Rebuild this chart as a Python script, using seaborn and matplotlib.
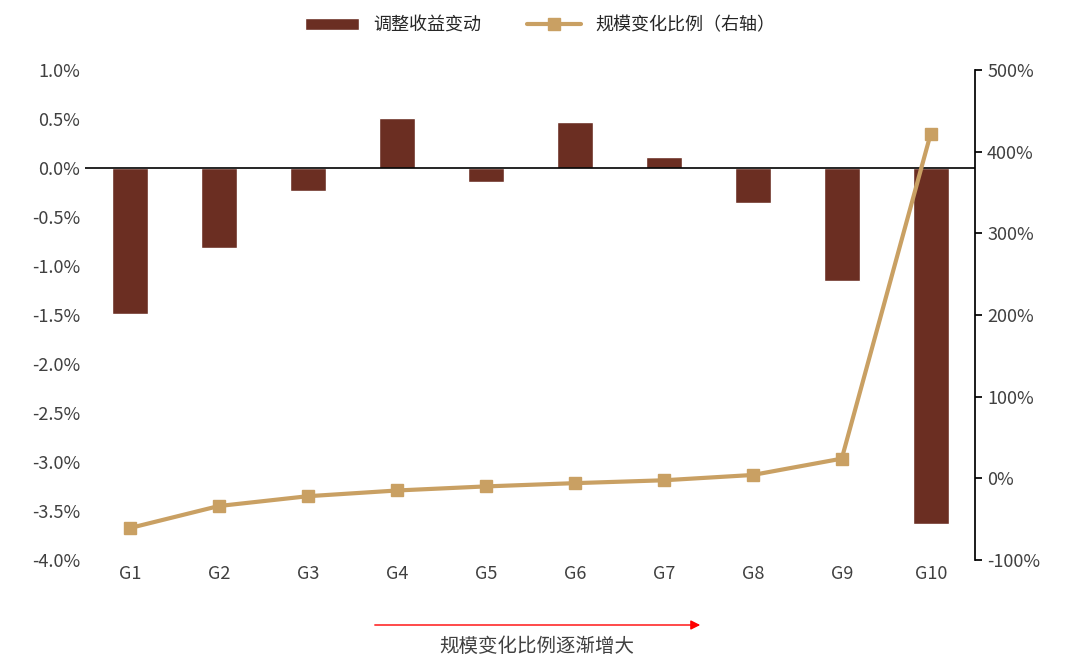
import matplotlib
matplotlib.use("Agg")
import matplotlib.pyplot as plt
import seaborn as sns
import pandas as pd
from matplotlib.ticker import FuncFormatter

sns.set_theme(style="white")
plt.rcParams['font.family'] = ['Noto Sans CJK SC', 'DejaVu Sans']
plt.rcParams['axes.unicode_minus'] = False

groups = ["G1","G2","G3","G4","G5","G6","G7","G8","G9","G10"]
ret_change = [-1.49, -0.82, -0.24, 0.51, -0.14, 0.47, 0.11, -0.36, -1.15, -3.63]
scale_change = [-61, -34, -22, -15, -10, -6, -2.5, 4, 24, 422]
df = pd.DataFrame({"g": groups, "r": ret_change, "s": scale_change})

fig = plt.figure(figsize=(10.8, 6.65), dpi=100)
ax = fig.add_axes([0.079, 0.158, 0.824, 0.737])
sns.barplot(data=df, x="g", y="r", color="#6B2E22", width=0.4, saturation=1, ax=ax, label="调整收益变动")
ax.set_ylim(-4.0, 1.0)
ax.set_yticks([1.0,0.5,0,-0.5,-1,-1.5,-2,-2.5,-3,-3.5,-4])
ax.yaxis.set_major_formatter(FuncFormatter(lambda v, p: f"{v:.1f}%"))
ax.axhline(0, color="black", lw=1.2)
ax.set_xlabel(""); ax.set_ylabel("")
for s in ["top","left","bottom","right"]:
    ax.spines[s].set_visible(False)
ax.tick_params(axis="both", labelsize=13, colors="#404040", length=0)

ax2 = ax.twinx()
ax2.plot(range(len(groups)), scale_change, color="#C9A063", lw=3, marker="s", markersize=8, label="规模变化比例（右轴）")
ax2.set_ylim(-100, 500)
ax2.set_yticks(range(-100, 501, 100))
ax2.yaxis.set_major_formatter(FuncFormatter(lambda v, p: f"{v:.0f}%"))
for s in ["top","left","bottom"]:
    ax2.spines[s].set_visible(False)
ax2.spines["right"].set_color("black")
ax2.tick_params(axis="y", labelsize=13, colors="#404040", direction="out", length=5, color="black")
ax2.grid(False); ax.grid(False)
ax.set_xlim(-0.5, 9.5)

h1, l1 = ax.get_legend_handles_labels()
h2, l2 = ax2.get_legend_handles_labels()
if ax.get_legend(): ax.get_legend().remove()
fig.legend(h1+h2, l1+l2, loc="upper center", bbox_to_anchor=(0.5, 1.0), ncol=2, frameon=False, fontsize=13, handlelength=3, columnspacing=2.5)

fig.patches.append(matplotlib.patches.FancyArrowPatch((372/1080, 1-625/665), (703/1080, 1-625/665), transform=fig.transFigure,
                   arrowstyle="-|>", mutation_scale=14, color="red", lw=1))
fig.text(537/1080, 1-646/665, "规模变化比例逐渐增大", ha="center", va="center", fontsize=14, color="#404040")
fig.savefig("out.png", dpi=100)
